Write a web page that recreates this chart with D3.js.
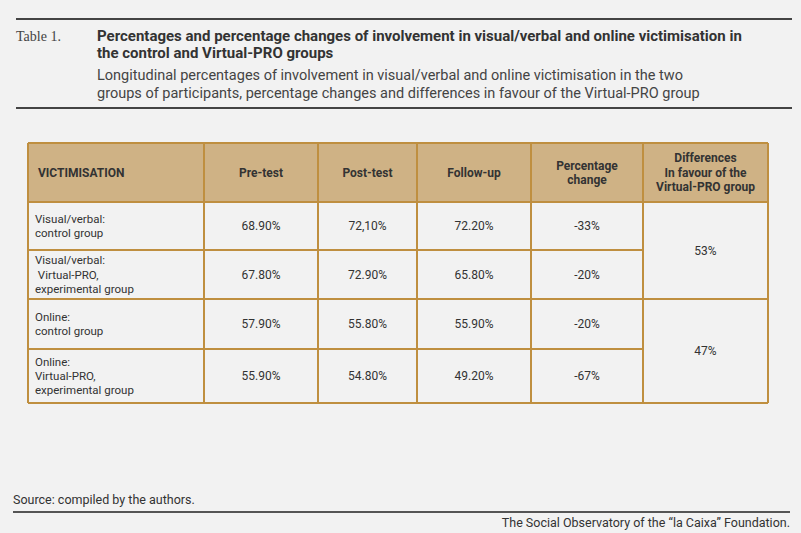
<!DOCTYPE html>
<html><head><meta charset="utf-8">
<script src="https://cdn.jsdelivr.net/npm/d3@7"></script>
<style>body{margin:0;background:#f2f2f2}</style>
</head><body><div id="chart"></div>
<script>
// ===== data =====
var columns = ["VICTIMISATION", "Pre-test", "Post-test", "Follow-up", "Percentage\nchange", "Differences\nIn favour of the\nVirtual-PRO group"];
var rowLabels = ["Visual/verbal:\ncontrol group", "Visual/verbal:\n Virtual-PRO,\nexperimental group", "Online:\ncontrol group", "Online:\nVirtual-PRO,\nexperimental group"];
var preTest = ["68.90%", "67.80%", "57.90%", "55.90%"];
var postTest = ["72,10%", "72.90%", "55.80%", "54.80%"];
var followUp = ["72.20%", "65.80%", "55.90%", "49.20%"];
var pctChange = ["-33%", "-20%", "-20%", "-67%"];
var differences = ["53%", "47%"];

var W = 801, H = 533;
var font = "'Roboto', sans-serif";
var gold = "#bf8f40", headFill = "#cfb285", ink = "#333";

var svg = d3.select("#chart").append("svg").attr("width", W).attr("height", H);
svg.append("rect").attr("width", W).attr("height", H).attr("fill", "#f2f2f2");

// ===== header block =====
svg.append("line").attr("x1", 16).attr("x2", 792).attr("y1", 19).attr("y2", 19).attr("stroke", "#444").attr("stroke-width", 2);
svg.append("line").attr("x1", 16).attr("x2", 792).attr("y1", 108).attr("y2", 108).attr("stroke", "#444").attr("stroke-width", 2);
svg.append("text").attr("x", 16).attr("y", 41).attr("font-family", "'Liberation Serif', serif").attr("font-size", 14).attr("fill", "#444").text("Table 1.");
["Percentages and percentage changes of involvement in visual/verbal and online victimisation in", "the control and Virtual-PRO groups"].forEach(function(t, i) {
  svg.append("text").attr("x", 97).attr("y", 41 + i * 17).attr("font-family", font).attr("font-size", 15).attr("font-weight", "bold").attr("fill", ink).text(t);
});
["Longitudinal percentages of involvement in visual/verbal and online victimisation in the two", "groups of participants, percentage changes and differences in favour of the Virtual-PRO group"].forEach(function(t, i) {
  svg.append("text").attr("x", 97).attr("y", 80 + i * 18).attr("font-family", font).attr("font-size", 14.5).attr("fill", "#444").text(t);
});

// ===== table scales =====
var colEdges = [28, 204, 318, 417, 531, 643, 768];
var rowEdges = [143, 202, 250, 299, 349, 403];
var colX = d3.scaleOrdinal().domain(d3.range(7)).range(colEdges);
var rowY = d3.scaleOrdinal().domain(d3.range(6)).range(rowEdges);

var g = svg.append("g");
g.append("rect").attr("x", colX(0)).attr("y", rowY(0)).attr("width", colX(6) - colX(0)).attr("height", rowY(1) - rowY(0)).attr("fill", headFill);

function multiline(x, yMid, txt, anchor, size, weight, lhk) {
  var lines = txt.split("\n"), lh = size * (lhk || 1.4);
  var t = g.append("text").attr("text-anchor", anchor).attr("font-family", font).attr("font-size", size).attr("font-weight", weight).attr("fill", ink).attr("xml:space", "preserve");
  lines.forEach(function(l, i) {
    t.append("tspan").attr("x", x).attr("y", yMid + (i - (lines.length - 1) / 2) * lh + size * 0.35).text(l);
  });
}

// header
columns.forEach(function(c, i) {
  var x = i === 0 ? colX(0) + 10 : (colX(i) + colX(i + 1)) / 2;
  multiline(x, (rowY(0) + rowY(1)) / 2, c, i === 0 ? "start" : "middle", 12, "bold", 1.2);
});

// body
var bodyCols = [preTest, postTest, followUp, pctChange];
rowLabels.forEach(function(lab, r) {
  var yMid = (rowY(r + 1) + rowY(r + 2)) / 2;
  multiline(colX(0) + 7, yMid, lab, "start", 11.5, "normal", 1.22);
  bodyCols.forEach(function(arr, c) {
    multiline((colX(c + 1) + colX(c + 2)) / 2, yMid, arr[r], "middle", 12, "normal");
  });
});
differences.forEach(function(d, k) {
  multiline((colX(5) + colX(6)) / 2, (rowY(1 + 2 * k) + rowY(3 + 2 * k)) / 2, d, "middle", 12, "normal");
});

// grid lines
var line = function(x1, y1, x2, y2) { g.append("line").attr("x1", x1).attr("y1", y1).attr("x2", x2).attr("y2", y2).attr("stroke", gold).attr("stroke-width", 2); };
d3.range(6).forEach(function(r) { line(colX(0), rowY(r), r === 2 || r === 4 ? colX(5) : colX(6), rowY(r)); });
line(colX(0), rowY(3), colX(6), rowY(3));
line(colX(0), rowY(5), colX(6), rowY(5));
d3.range(7).forEach(function(c) { line(colX(c), rowY(0), colX(c), rowY(5)); });

// ===== footer =====
svg.append("text").attr("x", 13).attr("y", 504).attr("font-family", font).attr("font-size", 12.5).attr("fill", ink).text("Source: compiled by the authors.");
svg.append("line").attr("x1", 13).attr("x2", 790).attr("y1", 512).attr("y2", 512).attr("stroke", "#555").attr("stroke-width", 2);
svg.append("text").attr("x", 790).attr("y", 527).attr("text-anchor", "end").attr("font-family", font).attr("font-size", 12.5).attr("fill", ink).text("The Social Observatory of the \u201cla Caixa\u201d Foundation.");
</script></body></html>
